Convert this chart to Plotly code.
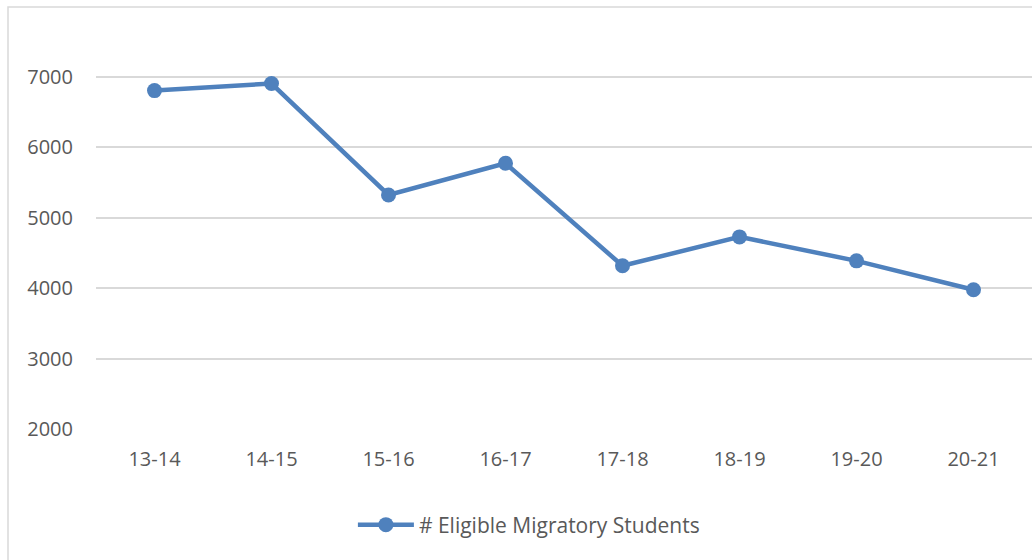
import plotly.graph_objects as go

categories = ["13-14", "14-15", "15-16", "16-17", "17-18", "18-19", "19-20", "20-21"]
students = [6800, 6900, 5320, 5770, 4315, 4725, 4385, 3975]
series_name = "# Eligible Migratory Students"
y_ticks = [2000, 3000, 4000, 5000, 6000, 7000]

blue = "#4f81bd"
grey_text = "#595959"
grid = "#d9d9d9"
font_family = "Open Sans, Lato, sans-serif"

fig = go.Figure()
fig.add_trace(go.Scatter(
    x=categories, y=students, name=series_name, mode="lines+markers",
    line=dict(color=blue, width=4.5),
    marker=dict(color=blue, size=15),
))

fig.update_layout(
    width=1032, height=560,
    margin=dict(l=96, r=0, t=6, b=131),
    paper_bgcolor="white", plot_bgcolor="white",
    font=dict(family=font_family, size=20, color=grey_text),
    showlegend=True,
    legend=dict(x=0.4625, y=-0.227, xanchor="center", yanchor="middle",
                orientation="h", font=dict(size=21, color=grey_text),
                itemwidth=56, bgcolor="rgba(0,0,0,0)"),
    xaxis=dict(type="category", range=[-0.5, 7.5], showgrid=False, zeroline=False,
               showline=False, ticks="outside", ticklen=12,
               tickcolor="rgba(0,0,0,0)", tickfont=dict(size=20, color=grey_text)),
    yaxis=dict(range=[2000, 8000], tickvals=y_ticks, showgrid=True, gridcolor=grid,
               gridwidth=1.5, zeroline=False, showline=False, ticks="outside",
               ticklen=18, tickcolor="rgba(0,0,0,0)",
               tickfont=dict(size=20, color=grey_text)),
    shapes=[dict(type="rect", xref="paper", yref="paper",
                 x0=(8 - 96) / 936, x1=1.05, y0=-0.5, y1=(429 - 7) / 423,
                 line=dict(color=grid, width=1.5), fillcolor="rgba(0,0,0,0)",
                 layer="below")],
)

fig.write_html("out.html", config={"displayModeBar": False},
               post_script="document.body.style.margin='0';document.body.style.overflow='hidden';")
